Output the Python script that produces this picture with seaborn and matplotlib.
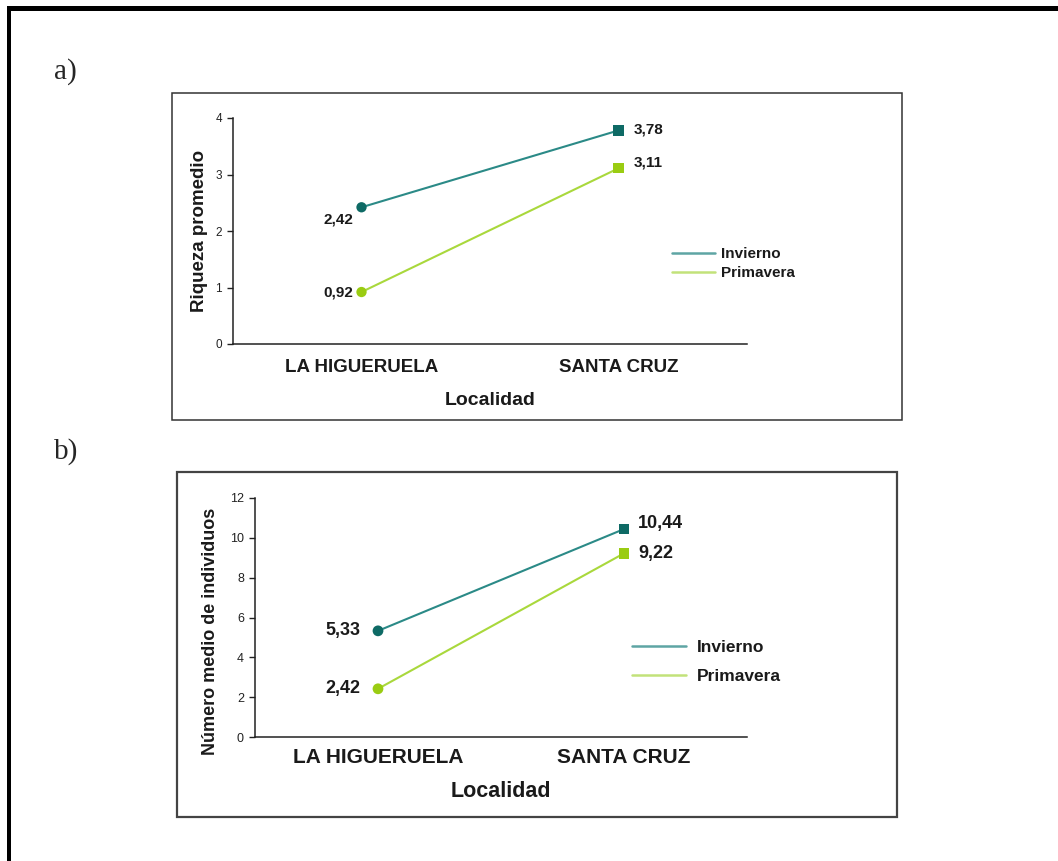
import matplotlib
matplotlib.use("Agg")
import matplotlib.pyplot as plt
from matplotlib.patches import Rectangle
from matplotlib.lines import Line2D
import seaborn as sns
import pandas as pd

sns.set_style("white")
plt.rcParams['font.family'] = ['Liberation Sans', 'DejaVu Sans']

# ---- data ----
localidades = ["LA HIGUERUELA", "SANTA CRUZ"]
series = ["Invierno", "Primavera"]
riqueza_invierno = [2.42, 3.78]
riqueza_primavera = [0.92, 3.11]
individuos_invierno = [5.33, 10.44]
individuos_primavera = [2.42, 9.22]
riqueza_ticks = [0, 1, 2, 3, 4]
individuos_ticks = [0, 2, 4, 6, 8, 10, 12]

line_colors = {"Invierno": "#2b8a87", "Primavera": "#a9d83c"}
marker_colors = {"Invierno": "#0e6a65", "Primavera": "#9acc12"}
legend_colors = {"Invierno": "#5ea5a4", "Primavera": "#c2e27a"}
markers = {"LA HIGUERUELA": "o", "SANTA CRUZ": "s"}

W, H = 1058, 861
fig = plt.figure(figsize=(W / 100, H / 100), dpi=100)


def fx(px):
    return px / W


def fy(py):
    return 1 - py / H


# outer thick border (top and left)
fig.add_artist(Rectangle((fx(7), fy(11)), fx(W - 7), 5 / H, transform=fig.transFigure,
                         facecolor="black", edgecolor="none"))
fig.add_artist(Rectangle((fx(7), 0), 4 / W, fy(6), transform=fig.transFigure,
                         facecolor="black", edgecolor="none"))

# panel frames
fig.add_artist(Rectangle((fx(172), fy(420)), fx(902 - 172), (420 - 93) / H,
                         transform=fig.transFigure, fill=False, edgecolor="#333333", linewidth=1.1))
fig.add_artist(Rectangle((fx(177), fy(817)), fx(897 - 177), (817 - 472) / H,
                         transform=fig.transFigure, fill=False, edgecolor="#444444", linewidth=1.6))

fig.text(fx(54), fy(72), "a)", fontsize=21, family=["Liberation Serif"], va="center", ha="left")
fig.text(fx(54), fy(452), "b)", fontsize=21, family=["Liberation Serif"], va="center", ha="left")


def make_df(inv, pri):
    rows = []
    for s, vals in zip(series, [inv, pri]):
        for loc, v in zip(localidades, vals):
            rows.append({"Localidad": loc, "Serie": s, "Valor": v})
    return pd.DataFrame(rows)


def panel(rect, df, yticks, ylabel, fs, label_offsets, leg_anchor, handlelen, lspace, tpad,
          msize, ylab_y):
    ax = fig.add_axes(rect)
    sns.lineplot(data=df, x="Localidad", y="Valor", hue="Serie", palette=line_colors,
                 linewidth=1.5, legend=False, ax=ax, sort=False)
    sns.scatterplot(data=df, x="Localidad", y="Valor", hue="Serie", style="Localidad",
                    markers=markers, palette=marker_colors, s=msize, edgecolor="none",
                    legend=False, ax=ax, zorder=3)
    ax.set_xlim(-0.5, 1.5)
    ax.set_ylim(yticks[0], yticks[-1])
    ax.set_yticks(yticks)
    ax.set_yticklabels([str(t) for t in yticks], fontsize=fs["tick"], color="#222222")
    ax.set_xticks(range(len(localidades)))
    ax.set_xticklabels(localidades, fontsize=fs["cat"], fontweight="bold", color="#1a1a1a")
    ax.tick_params(axis="x", length=0, pad=fs["catpad"])
    ax.tick_params(axis="y", length=4, width=1, color="#222222", pad=4, left=True)
    ax.set_xlabel("Localidad", fontsize=fs["xlab"], fontweight="bold", labelpad=fs["xlabpad"],
                  color="#1a1a1a")
    ax.set_ylabel(ylabel, fontsize=fs["ylab"], fontweight="bold", labelpad=fs["ylabpad"],
                  color="#1a1a1a")
    ax.yaxis.label.set_y(ylab_y)
    for sp in ["top", "right"]:
        ax.spines[sp].set_visible(False)
    for sp in ["left", "bottom"]:
        ax.spines[sp].set_color("#222222")
        ax.spines[sp].set_linewidth(1.1)
    ax.patch.set_alpha(0)
    # value labels
    for i, row in df.iterrows():
        dx, dy, ha = label_offsets[(row["Serie"], row["Localidad"])]
        ax.annotate(f"{row['Valor']:.2f}".replace(".", ","),
                    (localidades.index(row["Localidad"]), row["Valor"]),
                    xytext=(dx, dy), textcoords="offset points", ha=ha, va="center",
                    fontsize=fs["val"], fontweight="bold", color="#1a1a1a")
    handles = [Line2D([0], [0], color=legend_colors[s], linewidth=1.8) for s in series]
    leg = ax.legend(handles, series, loc="upper left", bbox_to_anchor=leg_anchor,
                    frameon=False, handlelength=handlelen, handletextpad=tpad,
                    labelspacing=lspace, prop={"weight": "bold", "size": fs["leg"]})
    for t in leg.get_texts():
        t.set_color("#1a1a1a")
    return ax


# panel a
fs_a = dict(tick=8.5, cat=13.5, catpad=11, xlab=14, xlabpad=11, ylab=13.5, ylabpad=5,
            val=11, leg=11)
off_a = {("Invierno", "LA HIGUERUELA"): (-6, -9, "right"),
         ("Primavera", "LA HIGUERUELA"): (-6, 0, "right"),
         ("Invierno", "SANTA CRUZ"): (11, 1, "left"),
         ("Primavera", "SANTA CRUZ"): (11, 4, "left")}
panel([fx(233), fy(344), fx(747 - 233), (344 - 118) / H],
      make_df(riqueza_invierno, riqueza_primavera), riqueza_ticks, "Riqueza promedio",
      fs_a, off_a, (0.828, 0.49), 2.8, 0.32, 0.4, 55, 0.5)

# panel b
fs_b = dict(tick=9, cat=15, catpad=8, xlab=15.5, xlabpad=10, ylab=13, ylabpad=8,
            val=13, leg=12.5)
off_b = {("Invierno", "LA HIGUERUELA"): (-13, 0, "right"),
         ("Primavera", "LA HIGUERUELA"): (-13, 0, "right"),
         ("Invierno", "SANTA CRUZ"): (10, 4, "left"),
         ("Primavera", "SANTA CRUZ"): (10, 0, "left")}
panel([fx(255), fy(737), fx(747 - 255), (737 - 498) / H],
      make_df(individuos_invierno, individuos_primavera), individuos_ticks,
      "Número medio de individuos", fs_b, off_b, (0.735, 0.47), 3.1, 0.75, 0.6, 60, 0.44)

fig.savefig("out.png", dpi=100)
